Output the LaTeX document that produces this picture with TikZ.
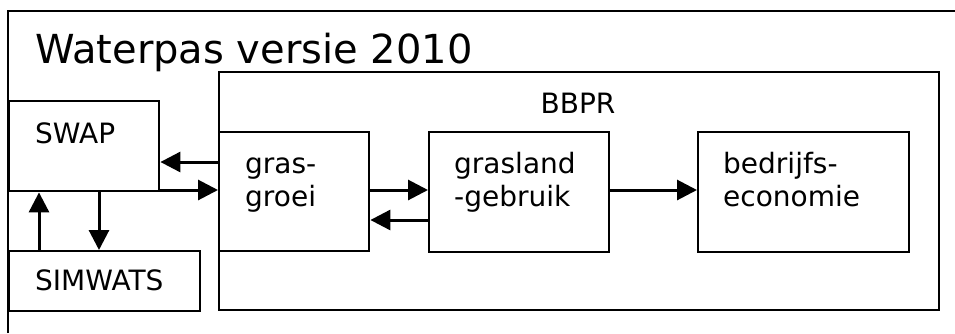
\documentclass[tikz,border=0pt]{standalone}
\usepackage{fontspec}
\setmainfont{DejaVu Sans}
\usetikzlibrary{arrows.meta,calc}
\tikzset{
  box/.style={draw, line width=2.4pt, anchor=north west, inner sep=0pt, rectangle},
  txt/.style={font=\fontsize{28}{33}\selectfont, inner sep=0pt, align=left, anchor=base west},
  conn/.style={line width=3pt, -{Triangle[length=20pt,width=20pt]}}
}
\begin{document}
\begin{tikzpicture}[x=1pt,y=-1pt]
\useasboundingbox (0,0) rectangle (955,333);
\fill[white] (0,0) rectangle (955,333);
% outer frame (only top and left edges visible)
\coordinate (ftl) at (8,11);
\coordinate (fbl) at (8,333);
\coordinate (ftr) at (955,11);
\draw[line width=2.4pt] (fbl) -- (ftl) -- (ftr);
\node[txt, font=\fontsize{40}{48}\selectfont] (title) at (35,63) {Waterpas versie 2010};

\node[box, minimum width=720pt, minimum height=238pt] (bbpr) at (218,71) {};
\node[txt, anchor=base] (bbprt) at (578,113) {BBPR};

\node[box, minimum width=150pt, minimum height=90pt] (swap) at (8,100) {};
\node[txt] (swapt) at (35,143) {SWAP};

\node[box, minimum width=191pt, minimum height=60pt] (simw) at (8,250) {};
\node[txt] (simwt) at (35,290) {SIMWATS};

\node[box, minimum width=150pt, minimum height=119pt] (gg) at (218,131) {};
\node[txt] (ggt) at (245,206) {gras-\\groei};

\node[box, minimum width=180pt, minimum height=120pt] (gl) at (428,131) {};
\node[txt] (glt) at (454,206) {grasland\\-gebruik};

\node[box, minimum width=211pt, minimum height=120pt] (be) at (697,131) {};
\node[txt] (bet) at (723,206) {bedrijfs-\\economie};

% connectors
\coordinate (y162) at (0,162);
\coordinate (y190) at (0,190);
\coordinate (y220) at (0,220);
\coordinate (x39) at (39,0);
\coordinate (x99) at (99,0);
\draw[conn] (gg.west |- y162) -- (swap.east |- y162);
\draw[conn] (swap.east |- y190) -- (gg.west |- y190);
\draw[conn] (x39 |- simw.north) -- (x39 |- swap.south);
\draw[conn] (x99 |- swap.south) -- (x99 |- simw.north);
\draw[conn] (gg.east |- y190) -- (gl.west |- y190);
\draw[conn] (gl.west |- y220) -- (gg.east |- y220);
\draw[conn] (gl.east |- y190) -- (be.west |- y190);
\end{tikzpicture}
\end{document}
